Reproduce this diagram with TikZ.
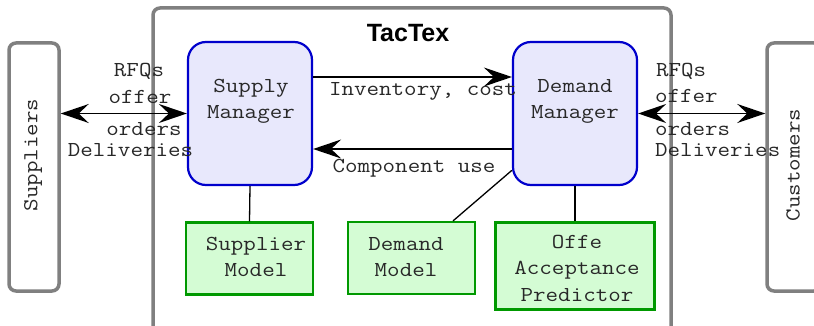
\documentclass[tikz,border=0pt]{standalone}
\usepackage{fontspec}
\setmainfont{Liberation Sans}
\setmonofont[FakeStretch=1.14]{Latin Modern Mono}
\usetikzlibrary{arrows.meta}
\definecolor{framegray}{RGB}{128,128,128}
\definecolor{mgrblue}{RGB}{0,0,204}
\definecolor{mgrfill}{RGB}{232,232,252}
\definecolor{modgreen}{RGB}{0,153,0}
\definecolor{modfill}{RGB}{212,252,212}
\definecolor{txt}{RGB}{40,40,40}
\tikzset{
  mono/.style={font=\ttfamily\fontsize{21.3}{26.5}\selectfont, text=txt, inner sep=0pt},
  outerbox/.style={draw=framegray, line width=3.5pt, rounded corners=7pt, inner sep=0pt},
  manager/.style={draw=mgrblue, fill=mgrfill, line width=2.2pt, rounded corners=18pt,
    minimum width=124pt, minimum height=143pt, inner sep=0pt},
  model/.style={draw=modgreen, fill=modfill, line width=2.2pt, minimum width=127pt,
    minimum height=72pt, inner sep=0pt},
  flow/.style={black, line width=1.7pt, -{Stealth[length=28pt,width=19pt,inset=10pt]}},
  both/.style={black, line width=1.7pt, {Stealth[length=28pt,width=19pt,inset=10pt]}-{Stealth[length=28pt,width=19pt,inset=10pt]}},
  link/.style={black, line width=1.3pt}
}
\begin{document}
\begin{tikzpicture}[x=1pt,y=-1pt]
\useasboundingbox (0,0) rectangle (814,326);
\fill[white] (0,0) rectangle (814,326);

% agent frame and outside parties
\node[outerbox, minimum width=518pt, minimum height=334pt] (tactex) at (412,175) {};
\node[font=\bfseries\fontsize{25}{30}\selectfont, inner sep=0pt] (title) at (408,33) {TacTex};
\node[outerbox, minimum width=50pt, minimum height=248pt] (sup) at (34,167) {};
\node[mono, rotate=90] (suptext) at (33,155) {Suppliers};
\node[outerbox, minimum width=54pt, minimum height=248pt] (cus) at (794,167) {};
\node[mono, rotate=90] (custext) at (793,165) {Customers};

% managers
\node[manager] (sm) at (250,113.5) {};
\node[mono, align=center] (smtext) at (251,101.5) {Supply\\Manager};
\node[manager] (dm) at (575,113.5) {};
\node[mono, align=center] (dmtext) at (575,101.5) {Demand\\Manager};

% models
\node[model] (spm) at (249.5,258.5) {};
\node[mono, align=center] (spmtext) at (256,257) {Supplier\\Model};
\node[model] (dmod) at (411.5,258) {};
\node[mono, align=center] (dmodtext) at (406,257) {Demand\\ Model};
\node[model, line width=3pt, minimum width=159pt, minimum height=87pt] (offe) at (575,266) {};
\node[mono, align=center] (offetext) at (577,268) {Offe\\Acceptance\\ Predictor};

% message exchange with suppliers and customers
\draw[both] (sup.east |- sm.west) -- (sm.west);
\draw[both] (dm.east) -- (cus.west |- dm.east);
\node[mono] (l1) at (139,71) {RFQs};
\node[mono] (l2) at (140,97) {offer};
\node[mono] (l3) at (144,129) {orders};
\node[mono] (l4) at (130.5,150) {Deliveries};
\node[mono, anchor=west] (r1) at (656,71) {RFQs};
\node[mono, anchor=west] (r2) at (655,96) {offer};
\node[mono, anchor=west] (r3) at (655,129) {orders};
\node[mono, anchor=west] (r4) at (655,150) {Deliveries};

% internal flows
\draw[flow] ([yshift=36.5pt]sm.east) -- ([yshift=36.5pt]dm.west);
\node[mono] (inv) at (423,91) {Inventory, cost};
\draw[flow] ([yshift=-35.5pt]dm.west) -- ([yshift=-35.5pt]sm.east);
\node[mono] (comp) at (414,168) {Component use};

% links to the models
\draw[link] (sm.south) -- (spm.north);
\draw[link] (dm.222) -- ([xshift=41.5pt]dmod.north);
\draw[link] (dm.south) -- (offe.north);
\end{tikzpicture}
\end{document}
